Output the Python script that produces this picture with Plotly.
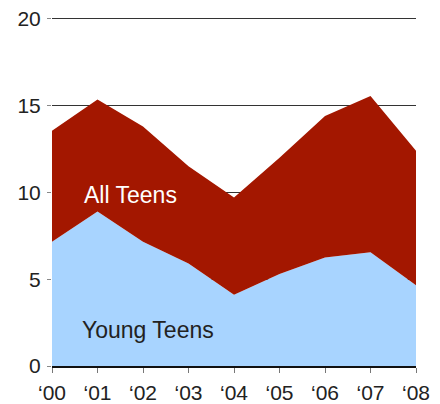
import plotly.graph_objects as go

years = ["\u201800", "\u201801", "\u201802", "\u201803", "\u201804", "\u201805", "\u201806", "\u201807", "\u201808"]
young_teens = [7.15, 8.9, 7.15, 5.9, 4.1, 5.3, 6.25, 6.55, 4.65]
all_teens = [13.55, 15.35, 13.8, 11.5, 9.7, 12.0, 14.4, 15.55, 12.4]

RED = "#A31700"
BLUE = "#A8D4FF"
FONT = "Liberation Sans, Arial, sans-serif"

fig = go.Figure()
fig.add_trace(go.Scatter(x=years, y=young_teens, mode="lines", line=dict(width=0, color=BLUE),
                         fill="tozeroy", fillcolor=BLUE, name="Young Teens", hoverinfo="skip"))
fig.add_trace(go.Scatter(x=years, y=all_teens, mode="lines", line=dict(width=0, color=RED),
                         fill="tonexty", fillcolor=RED, name="All Teens", hoverinfo="skip"))

fig.add_annotation(x=1.72, y=9.85, xref="x", yref="y", text="All Teens", showarrow=False,
                   font=dict(family=FONT, size=23, color="white"))
fig.add_annotation(x=2.1, y=2.1, xref="x", yref="y", text="Young Teens", showarrow=False,
                   font=dict(family=FONT, size=23, color="#222222"))

fig.update_layout(
    width=432, height=396,
    margin=dict(l=44, r=24, t=9, b=38),
    paper_bgcolor="white", plot_bgcolor="white",
    showlegend=False,
    font=dict(family=FONT, size=21, color="#222222"),
    xaxis=dict(range=[0, 8], showgrid=False, zeroline=False, showline=True, linecolor="#111111",
               linewidth=1.5, ticks="outside", ticklen=5, tickcolor="#777777", tickwidth=1,
               tickfont=dict(size=21), fixedrange=True, automargin=False, ticklabelstandoff=2,
               ticklabeloverflow="allow"),
    yaxis=dict(range=[0, 20.1], tickvals=[0, 5, 10, 15, 20], showgrid=True, gridcolor="#333333",
               gridwidth=1, zeroline=False, showline=False, ticks="outside", ticklen=4,
               tickcolor="#888888", tickfont=dict(size=21), fixedrange=True, automargin=False,
               ticklabelstandoff=2, layer="below traces", ticklabeloverflow="allow"),
)
fig.write_html("out.html")
